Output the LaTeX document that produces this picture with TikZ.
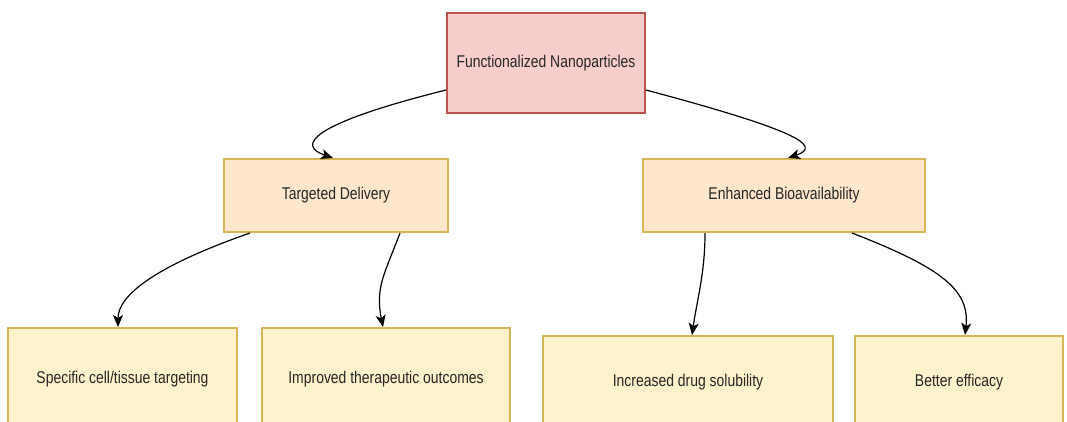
\documentclass[tikz,border=0pt]{standalone}
\usepackage{fontspec}
\setmainfont{Liberation Sans}
\usetikzlibrary{arrows.meta}
\definecolor{redfill}{HTML}{F8CECC}
\definecolor{redline}{HTML}{B85450}
\definecolor{orfill}{HTML}{FFE6CC}
\definecolor{yelfill}{HTML}{FFF2CC}
\definecolor{yelline}{HTML}{D6B656}
\definecolor{txt}{HTML}{262626}
\newcommand{\lbl}[1]{\scalebox{0.82}[1]{#1}}
\tikzset{
  box/.style={draw, line width=2pt, inner sep=0pt, text=txt,
    font=\fontsize{17}{20}\selectfont},
  rootbox/.style={box, draw=redline, fill=redfill},
  midbox/.style={box, draw=yelline, fill=orfill},
  leafbox/.style={box, draw=yelline, fill=yelfill},
  conn/.style={line width=1.2pt, -{Stealth[length=12pt,width=10pt,inset=3pt]}}
}
\begin{document}
\begin{tikzpicture}[x=1pt,y=-1pt]
	\useasboundingbox (0,0) rectangle (1067,421);
	\fill[white] (0,0) rectangle (1067,421);
	\clip (0,0) rectangle (1067,421);
	\node[rootbox, minimum width=198pt, minimum height=100pt] (root) at (546,63) {\lbl{Functionalized Nanoparticles}};
	\node[midbox, minimum width=224pt, minimum height=73pt] (targ) at (336,195.5) {\lbl{Targeted Delivery}};
	\node[midbox, minimum width=282pt, minimum height=73pt] (enh) at (784,195.5) {\lbl{Enhanced Bioavailability}};
	\node[leafbox, minimum width=229pt, minimum height=102pt] (spec) at (122.5,379) {\lbl{Specific cell/tissue targeting}};
	\node[leafbox, minimum width=248pt, minimum height=102pt] (impr) at (386,379) {\lbl{Improved therapeutic outcomes}};
	\node[leafbox, minimum width=290pt, minimum height=92pt] (incr) at (688,382) {\lbl{Increased drug solubility}};
	\node[leafbox, minimum width=208pt, minimum height=92pt] (bett) at (959,382) {\lbl{Better efficacy}};
	% connectors
	\draw[conn] ([yshift=-27pt]root.west) .. controls +(-140,35) and +(-35,-12) .. ([xshift=-3pt]targ.north);
	\draw[conn] ([yshift=-27pt]root.east) .. controls +(150,40) and +(35,-12) .. ([xshift=4pt]enh.north);
	\draw[conn] ([xshift=-86pt]targ.south) .. controls +(-100,35) and +(0,-30) .. ([xshift=-4.5pt]spec.north);
	\draw[conn] ([xshift=64pt]targ.south) .. controls +(-15,40) and +(-8,-40) .. ([xshift=-3pt]impr.north);
	\draw[conn] ([xshift=-79pt]enh.south) .. controls +(0,40) and +(5,-35) .. ([xshift=4pt]incr.north);
	\draw[conn] ([xshift=68pt]enh.south) .. controls +(90,35) and +(5,-45) .. ([xshift=6pt]bett.north);
\end{tikzpicture}
\end{document}
